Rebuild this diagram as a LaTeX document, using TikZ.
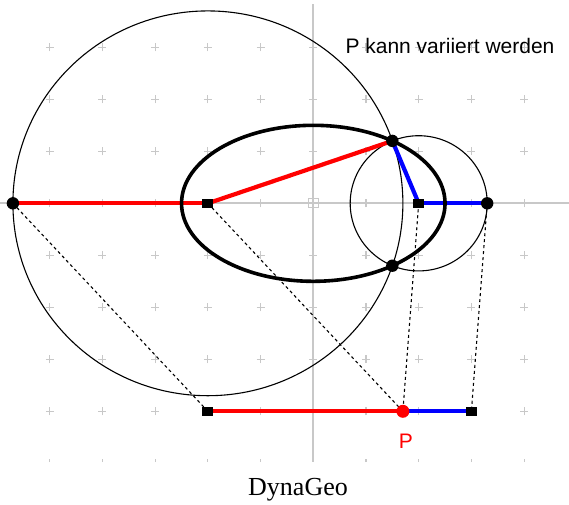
\documentclass[tikz,border=0pt]{standalone}
\usepackage{fontspec}
\setmainfont{Liberation Serif}
\newfontfamily\arialf{Liberation Sans}
\definecolor{gridgray}{RGB}{200,200,200}
\definecolor{myred}{RGB}{255,0,0}
\definecolor{myblue}{RGB}{0,0,255}
\begin{document}
\begin{tikzpicture}[x=52.7pt,y=52.0pt,
  gridc/.style={draw=gridgray, line width=1.1pt},
  axisl/.style={draw=gridgray, line width=1.8pt},
  thincirc/.style={draw=black, line width=1.1pt},
  ellipsel/.style={draw=black, line width=3.6pt},
  redl/.style={draw=myred, line width=4.2pt},
  bluel/.style={draw=myblue, line width=4.2pt},
  dashl/.style={draw=black, line width=1.1pt, dash pattern=on 3pt off 3pt},
  dotpt/.style={fill=black},
  sqpt/.style={fill=black},
  lbl/.style={font=\arialf\fontsize{21pt}{25pt}\selectfont, inner sep=0pt}]
\useasboundingbox (-5.945,-5.783) rectangle (4.852,3.910);
% grid crosses
\foreach \i in {-5,...,4} {
  \foreach \j in {-4,...,3} {
    \draw[gridc] (\i,\j) ++(-4pt,0) -- ++(8pt,0);
    \draw[gridc] (\i,\j) ++(0,-4pt) -- ++(0,8pt);
  }
  \draw[gridc] (\i,-4.975) -- ++(0,3pt);
}
% axes
\draw[axisl] (-5.945,0) -- (4.852,0);
\draw[axisl] (0,3.83) -- (0,-4.975);
\draw[draw=gridgray, line width=1pt] (-5pt,-4.5pt) rectangle (5pt,4.5pt);
% points
\coordinate (F1) at (-2,0);
\coordinate (F2) at (2,0);
\coordinate (L) at (-5.70,0);
\coordinate (R) at (3.30,0);
\coordinate (Q) at (1.5,1.2);
\coordinate (Q2) at (1.5,-1.2);
\coordinate (A) at (-2,-4);
\coordinate (B) at (3,-4);
\coordinate (P) at (1.70,-4);
\coordinate (O) at (0,0);
% circles
\draw[thincirc] (F1) circle[radius=3.70];
\draw[thincirc] (F2) circle[radius=1.30];
% dashed transfer lines
\draw[dashl] (L) -- (A);
\draw[dashl] (F1) -- (P);
\draw[dashl] (F2) -- (P);
\draw[dashl] (R) -- (B);
% segments
\draw[redl] (L) -- (F1);
\draw[redl] (F1) -- (Q);
\draw[bluel] (Q) -- (F2);
\draw[bluel] (F2) -- (R);
\draw[redl] (A) -- (P);
\draw[bluel] (P) -- (B);
% ellipse
\draw[ellipsel] (O) ellipse[x radius=2.5, y radius=1.5];
% point markers
\fill[dotpt] (L) circle (6.2pt);
\fill[dotpt] (R) circle (6.2pt);
\fill[dotpt] (Q) circle (6.2pt);
\fill[dotpt] (Q2) circle (6.2pt);
\fill[sqpt] (F1) ++(-5.5pt,-4.5pt) rectangle ++(11pt,9pt);
\fill[sqpt] (F2) ++(-5.5pt,-4.5pt) rectangle ++(11pt,9pt);
\fill[sqpt] (A) ++(-5.5pt,-4.5pt) rectangle ++(11pt,9pt);
\fill[sqpt] (B) ++(-5.5pt,-4.5pt) rectangle ++(11pt,9pt);
\fill[myred] (P) circle (6.5pt);
% labels
\node[lbl, text=myred] (plabel) at (1.759,-4.571) {P};
\node[lbl] (note) at (2.594,3.035) {P kann variiert werden};
\node[font=\fontsize{26pt}{30pt}\selectfont, inner sep=0pt, anchor=base] (title) at (-0.290,-5.610) {DynaGeo};
\end{tikzpicture}
\end{document}
